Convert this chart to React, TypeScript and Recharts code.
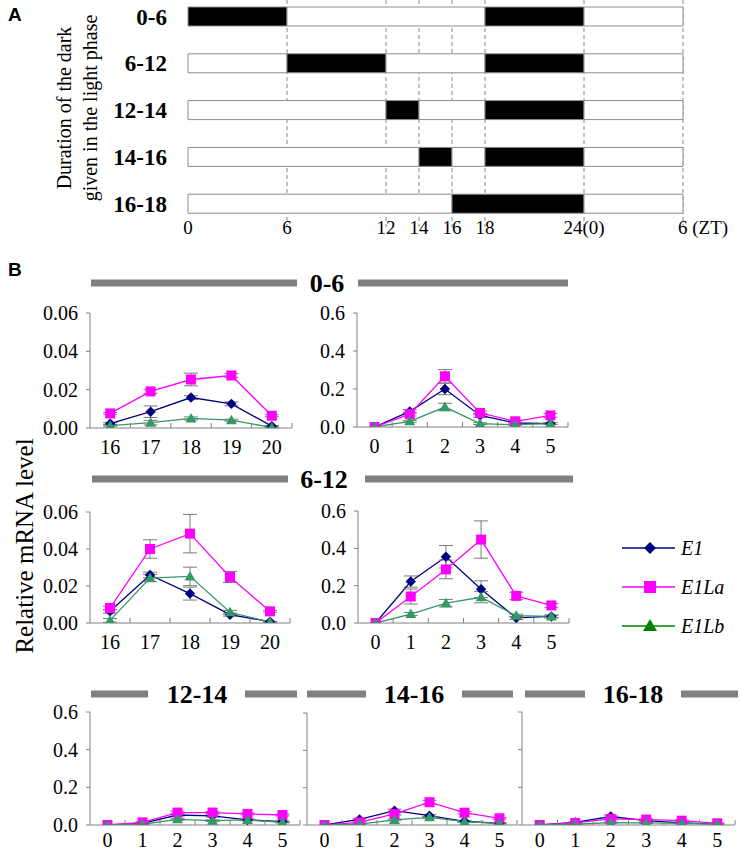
import React from 'react';
import { LineChart, Line, XAxis, YAxis, ErrorBar, BarChart, Bar, Cell, CartesianGrid } from 'recharts';

const SERIF = "'Liberation Serif', 'Times New Roman', Times, serif";
const SANS = "'Liberation Sans Narrow', 'Liberation Sans', Arial, sans-serif";
const AXIS_GRAY = '#808080';
const ERR_GRAY = '#7a7a7a';
const E1_COLOR = '#000080';
const E1LA_COLOR = '#ff00ff';
const E1LB_COLOR = '#339966';
const E1LB_LEGEND = '#008000';

// ---------- Panel A data ----------
const treatmentLabels = ['0-6', '6-12', '12-14', '14-16', '16-18'];
const darkPulseStart = [0, 6, 12, 14, 16];
const darkPulseEnd = [6, 12, 14, 16, 18];
const nightStart = 18;
const nightEnd = 24;
const cycleEnd = 30;
const ztTicks = [0, 6, 12, 14, 16, 18, 24, 30];
const ztTickLabels = ['0', '6', '12', '14', '16', '18', '24(0)', '6 (ZT)'];

// ---------- Panel B categories ----------
const ztLate = ['16', '17', '18', '19', '20'];
const ztEarly = ['0', '1', '2', '3', '4', '5'];

// 0-6, ZT16-20
const d06LateE1 = [0.0023, 0.0085, 0.0159, 0.0126, 0.001];
const d06LateE1Err = [0.0005, 0.003, 0.001, 0.001, 0.0003];
const d06LateE1La = [0.0076, 0.0191, 0.0253, 0.0274, 0.0064];
const d06LateE1LaErr = [0.0005, 0.001, 0.0033, 0.001, 0.0005];
const d06LateE1Lb = [0.0012, 0.0028, 0.005, 0.0041, 0.0003];
const d06LateE1LbErr = [0.0003, 0.0012, 0.0008, 0.0005, 0.0002];

// 0-6, ZT0-5
const d06EarlyE1 = [0, 0.082, 0.2, 0.061, 0.021, 0.018];
const d06EarlyE1Err = [0, 0.01, 0.03, 0.01, 0.005, 0.005];
const d06EarlyE1La = [0, 0.068, 0.267, 0.074, 0.03, 0.061];
const d06EarlyE1LaErr = [0, 0.01, 0.035, 0.01, 0.005, 0.01];
const d06EarlyE1Lb = [0, 0.03, 0.105, 0.018, 0.012, 0.018];
const d06EarlyE1LbErr = [0, 0.005, 0.02, 0.005, 0.003, 0.005];

// 6-12, ZT16-20
const d612LateE1 = [0.0063, 0.026, 0.0159, 0.0045, 0.0007];
const d612LateE1Err = [0.001, 0.0015, 0.0035, 0.0008, 0.0002];
const d612LateE1La = [0.0081, 0.04, 0.0483, 0.0249, 0.0063];
const d612LateE1LaErr = [0.001, 0.005, 0.0104, 0.003, 0.0005];
const d612LateE1Lb = [0.0014, 0.0243, 0.0252, 0.0058, 0.0005];
const d612LateE1LbErr = [0.001, 0.002, 0.005, 0.001, 0.0002];

// 6-12, ZT0-5
const d612EarlyE1 = [0, 0.222, 0.355, 0.181, 0.027, 0.035];
const d612EarlyE1Err = [0, 0.03, 0.06, 0.045, 0.008, 0.008];
const d612EarlyE1La = [0, 0.142, 0.287, 0.447, 0.145, 0.094];
const d612EarlyE1LaErr = [0, 0.04, 0.05, 0.1, 0.02, 0.01];
const d612EarlyE1Lb = [0, 0.048, 0.106, 0.138, 0.039, 0.035];
const d612EarlyE1LbErr = [0, 0.008, 0.02, 0.03, 0.008, 0.006];

// 12-14, ZT0-5
const d1214E1 = [0, 0.009, 0.053, 0.048, 0.027, 0.018];
const d1214E1Err = [0, 0.003, 0.006, 0.005, 0.004, 0.003];
const d1214E1La = [0, 0.014, 0.066, 0.066, 0.059, 0.053];
const d1214E1LaErr = [0, 0.003, 0.008, 0.006, 0.005, 0.005];
const d1214E1Lb = [0, 0.004, 0.03, 0.023, 0.027, 0.014];
const d1214E1LbErr = [0, 0.002, 0.005, 0.004, 0.004, 0.003];

// 14-16, ZT0-5
const d1416E1 = [0, 0.03, 0.077, 0.05, 0.02, 0.009];
const d1416E1Err = [0, 0.004, 0.008, 0.006, 0.004, 0.003];
const d1416E1La = [0, 0.014, 0.059, 0.122, 0.066, 0.036];
const d1416E1LaErr = [0, 0.003, 0.006, 0.01, 0.006, 0.004];
const d1416E1Lb = [0, 0.005, 0.027, 0.041, 0.018, 0.009];
const d1416E1LbErr = [0, 0.002, 0.004, 0.005, 0.003, 0.002];

// 16-18, ZT0-5
const d1618E1 = [0, 0.014, 0.045, 0.023, 0.011, 0.005];
const d1618E1Err = [0, 0.003, 0.007, 0.004, 0.003, 0.002];
const d1618E1La = [0, 0.011, 0.032, 0.029, 0.023, 0.009];
const d1618E1LaErr = [0, 0.003, 0.005, 0.004, 0.004, 0.002];
const d1618E1Lb = [0, 0.004, 0.013, 0.011, 0.009, 0.004];
const d1618E1LbErr = [0, 0.002, 0.003, 0.003, 0.002, 0.002];

const seriesNames = ['E1', 'E1La', 'E1Lb'];

// ---------- Panel A ----------
function buildRow(i: number) {
  const pts = Array.from(new Set([0, darkPulseStart[i], darkPulseEnd[i], nightStart, nightEnd, cycleEnd])).sort((a, b) => a - b);
  const segs: { len: number; dark: boolean }[] = [];
  for (let k = 0; k < pts.length - 1; k++) {
    const a = pts[k];
    const b = pts[k + 1];
    const mid = (a + b) / 2;
    const dark = (mid >= darkPulseStart[i] && mid < darkPulseEnd[i]) || (mid >= nightStart && mid < nightEnd);
    if (segs.length && segs[segs.length - 1].dark === dark) segs[segs.length - 1].len += b - a;
    else segs.push({ len: b - a, dark });
  }
  const row: any = { label: treatmentLabels[i] };
  for (let k = 0; k < 5; k++) {
    row['s' + k] = segs[k] ? segs[k].len : 0;
    row['d' + k] = segs[k] ? segs[k].dark : false;
  }
  return row;
}

const scheduleData = treatmentLabels.map((_, i) => buildRow(i));

const ZtTick = (props: any) => {
  const { x, y, payload } = props;
  const idx = ztTicks.indexOf(payload.value);
  const last = idx === ztTicks.length - 1;
  return (
    <text x={last ? x - 5 : x} y={y} dy="0.36em" textAnchor={last ? 'start' : 'middle'} fontSize={19} fontFamily={SERIF} fill="#000">
      {ztTickLabels[idx]}
    </text>
  );
};

function PanelA() {
  return (
    <div style={{ position: 'absolute', left: 0, top: -7 }}>
      <BarChart
        width={740}
        height={264}
        data={scheduleData}
        layout="vertical"
        margin={{ top: 0, right: 57, bottom: 0, left: 0 }}
        barCategoryGap={0}
      >
        <CartesianGrid horizontal={false} verticalValues={ztTicks.slice(1)} stroke="#8a8a8a" strokeDasharray="4 3" />
        <XAxis
          type="number"
          domain={[0, cycleEnd]}
          ticks={ztTicks}
          interval={0}
          axisLine={false}
          tickLine={false}
          tickSize={0}
          tickMargin={0}
          height={30}
          tick={ZtTick}
        />
        <YAxis
          type="category"
          dataKey="label"
          width={188}
          axisLine={false}
          tickLine={false}
          tickSize={0}
          tickMargin={21}
          tick={{ fontSize: 23, fontWeight: 'bold', fontFamily: SERIF, fill: '#000' }}
        />
        {[0, 1, 2, 3, 4].map((k) => (
          <Bar key={k} dataKey={'s' + k} stackId="a" barSize={19} stroke="#8c8c8c" strokeWidth={1} isAnimationActive={false}>
            {scheduleData.map((r, i) => (
              <Cell key={i} fill={r['d' + k] ? '#000' : '#fff'} />
            ))}
          </Bar>
        ))}
      </BarChart>
    </div>
  );
}

// ---------- Panel B ----------
const diamondDot = (p: any) => {
  const { cx, cy, index } = p;
  if (cx == null || cy == null) return <g key={'d' + index} />;
  const r = 5.2;
  return <path key={'d' + index} d={`M${cx},${cy - r}L${cx + r},${cy}L${cx},${cy + r}L${cx - r},${cy}Z`} fill={E1_COLOR} />;
};
const squareDot = (p: any) => {
  const { cx, cy, index } = p;
  if (cx == null || cy == null) return <g key={'s' + index} />;
  const h = 5;
  return <rect key={'s' + index} x={cx - h} y={cy - h} width={2 * h} height={2 * h} fill={E1LA_COLOR} />;
};
const triangleDot = (p: any) => {
  const { cx, cy, index } = p;
  if (cx == null || cy == null) return <g key={'t' + index} />;
  return <path key={'t' + index} d={`M${cx},${cy - 5.5}L${cx + 5.5},${cy + 4}L${cx - 5.5},${cy + 4}Z`} fill={E1LB_COLOR} />;
};

type ChartProps = {
  cats: string[];
  e1: number[];
  e1Err: number[];
  la: number[];
  laErr: number[];
  lb: number[];
  lbErr: number[];
  yMax: number;
  decimals: number;
  axisX: number;
  plotTop: number;
  plotBottom: number;
  plotRight: number;
  showYLabels: boolean;
  labelOffset: number;
};

function ExprChart(props: ChartProps) {
  const { cats, e1, e1Err, la, laErr, lb, lbErr, yMax, decimals, axisX, plotTop, plotBottom, plotRight, showYLabels, labelOffset } = props;
  const plotW = plotRight - axisX;
  const plotH = plotBottom - plotTop;
  const YW = 60;
  const MT = 12;
  const MR = 12;
  const XH = 36;
  const bw = plotW / cats.length;
  const data = cats.map((c, i) => ({
    i,
    e1: e1[i],
    e1Err: e1Err[i],
    la: la[i],
    laErr: laErr[i],
    lb: lb[i],
    lbErr: lbErr[i],
  }));
  const CatTick = (tp: any) => {
    const { x, y, payload } = tp;
    return (
      <g>
        <line x1={x + bw / 2} y1={y} x2={x + bw / 2} y2={y - 5} stroke={AXIS_GRAY} />
        <text x={x} y={y + labelOffset} dy="0.36em" textAnchor="middle" fontSize={20} fontFamily={SERIF} fill="#000">
          {cats[payload.value]}
        </text>
      </g>
    );
  };
  return (
    <div style={{ position: 'absolute', left: axisX - YW, top: plotTop - MT }}>
      <LineChart width={YW + plotW + MR} height={MT + plotH + XH} data={data} margin={{ top: MT, right: MR, bottom: 0, left: 0 }}>
        <XAxis
          dataKey="i"
          type="number"
          domain={[-0.5, cats.length - 0.5]}
          ticks={cats.map((_, i) => i)}
          interval={0}
          tickLine={false}
          tickSize={0}
          tickMargin={0}
          height={XH}
          axisLine={{ stroke: AXIS_GRAY }}
          tick={CatTick}
          allowDataOverflow
        />
        <YAxis
          type="number"
          domain={[0, yMax]}
          ticks={[0, yMax / 3, (2 * yMax) / 3, yMax]}
          tickFormatter={(v: number) => (showYLabels ? v.toFixed(decimals) : '')}
          width={YW}
          tickSize={4}
          tickMargin={8}
          axisLine={{ stroke: AXIS_GRAY }}
          tickLine={{ stroke: AXIS_GRAY }}
          tick={{ fontSize: 20, fill: '#000', fontFamily: SERIF }}
          allowDataOverflow
        />
        <Line dataKey="e1" name={seriesNames[0]} stroke={E1_COLOR} strokeWidth={1.3} dot={diamondDot} isAnimationActive={false}>
          <ErrorBar dataKey="e1Err" stroke={ERR_GRAY} width={7} strokeWidth={1} />
        </Line>
        <Line dataKey="la" name={seriesNames[1]} stroke={E1LA_COLOR} strokeWidth={1.3} dot={squareDot} isAnimationActive={false}>
          <ErrorBar dataKey="laErr" stroke={ERR_GRAY} width={7} strokeWidth={1} />
        </Line>
        <Line dataKey="lb" name={seriesNames[2]} stroke={E1LB_COLOR} strokeWidth={1.3} dot={triangleDot} isAnimationActive={false}>
          <ErrorBar dataKey="lbErr" stroke={ERR_GRAY} width={7} strokeWidth={1} />
        </Line>
      </LineChart>
    </div>
  );
}

// ---------- Decorations ----------
function TitleBar({ x1, x2, y }: { x1: number; x2: number; y: number }) {
  return <rect x={x1} y={y - 3.5} width={x2 - x1} height={7} fill="#808080" />;
}

function Title({ x, y, text }: { x: number; y: number; text: string }) {
  return (
    <text x={x} y={y} dy="0.35em" textAnchor="middle" fontSize={26} fontWeight="bold" fontFamily={SERIF} fill="#000">
      {text}
    </text>
  );
}

function Overlay() {
  const legendRows = [
    { name: seriesNames[0], color: E1_COLOR, y: 548, shape: 'diamond' },
    { name: seriesNames[1], color: E1LA_COLOR, y: 587, shape: 'square' },
    { name: seriesNames[2], color: E1LB_LEGEND, y: 626, shape: 'triangle' },
  ];
  return (
    <svg width={740} height={852} style={{ position: 'absolute', left: 0, top: 0, pointerEvents: 'none' }}>
      <text x={8} y={21} fontSize={19} fontWeight="bold" fontFamily={SANS} fill="#000">A</text>
      <text x={8} y={276} fontSize={19} fontWeight="bold" fontFamily={SANS} fill="#000">B</text>
      <text transform="translate(64,108) rotate(-90)" textAnchor="middle" dy="0.35em" fontSize={20} fontFamily={SERIF} fill="#000">
        Duration of the dark
      </text>
      <text transform="translate(90,108) rotate(-90)" textAnchor="middle" dy="0.35em" fontSize={20} fontFamily={SERIF} fill="#000">
        given in the light phase
      </text>
      <text transform="translate(24,546) rotate(-90)" textAnchor="middle" dy="0.35em" fontSize={25} fontFamily={SERIF} fill="#000">
        Relative mRNA level
      </text>

      <TitleBar x1={91} x2={297} y={283} />
      <Title x={327} y={283} text={treatmentLabels[0]} />
      <TitleBar x1={358} x2={568} y={283} />

      <TitleBar x1={92} x2={288} y={479} />
      <Title x={324} y={479} text={treatmentLabels[1]} />
      <TitleBar x1={365} x2={573} y={479} />

      <TitleBar x1={91} x2={148} y={694} />
      <Title x={197} y={694} text={treatmentLabels[2]} />
      <TitleBar x1={245} x2={297} y={694} />

      <TitleBar x1={307} x2={366} y={694} />
      <Title x={414} y={694} text={treatmentLabels[3]} />
      <TitleBar x1={462} x2={513} y={694} />

      <TitleBar x1={525} x2={585} y={694} />
      <Title x={633} y={694} text={treatmentLabels[4]} />
      <TitleBar x1={681} x2={738} y={694} />

      {legendRows.map((r) => (
        <g key={r.name}>
          <line x1={622} x2={675} y1={r.y} y2={r.y} stroke={r.color} strokeWidth={1.3} />
          {r.shape === 'diamond' && <path d={`M650,${r.y - 6}L656,${r.y}L650,${r.y + 6}L644,${r.y}Z`} fill={r.color} />}
          {r.shape === 'square' && <rect x={644} y={r.y - 6} width={12} height={12} fill={r.color} />}
          {r.shape === 'triangle' && <path d={`M650,${r.y - 7}L657,${r.y + 5}L643,${r.y + 5}Z`} fill={r.color} />}
          <text x={681} y={r.y} dy="0.35em" fontSize={20} fontStyle="italic" fontFamily={SERIF} fill="#000">
            {r.name}
          </text>
        </g>
      ))}
    </svg>
  );
}

export default function App() {
  return (
    <div style={{ position: 'absolute', left: 0, top: 0, width: 740, height: 852, background: '#fff', overflow: 'hidden' }}>
      <PanelA />
      <ExprChart cats={ztLate} e1={d06LateE1} e1Err={d06LateE1Err} la={d06LateE1La} laErr={d06LateE1LaErr} lb={d06LateE1Lb} lbErr={d06LateE1LbErr}
        yMax={0.06} decimals={2} axisX={90} plotTop={313} plotBottom={428} plotRight={292} showYLabels labelOffset={19} />
      <ExprChart cats={ztEarly} e1={d06EarlyE1} e1Err={d06EarlyE1Err} la={d06EarlyE1La} laErr={d06EarlyE1LaErr} lb={d06EarlyE1Lb} lbErr={d06EarlyE1LbErr}
        yMax={0.6} decimals={1} axisX={357} plotTop={313} plotBottom={427} plotRight={568} showYLabels labelOffset={19} />
      <ExprChart cats={ztLate} e1={d612LateE1} e1Err={d612LateE1Err} la={d612LateE1La} laErr={d612LateE1LaErr} lb={d612LateE1Lb} lbErr={d612LateE1LbErr}
        yMax={0.06} decimals={2} axisX={90} plotTop={512} plotBottom={623} plotRight={290} showYLabels labelOffset={19} />
      <ExprChart cats={ztEarly} e1={d612EarlyE1} e1Err={d612EarlyE1Err} la={d612EarlyE1La} laErr={d612EarlyE1LaErr} lb={d612EarlyE1Lb} lbErr={d612EarlyE1LbErr}
        yMax={0.6} decimals={1} axisX={358} plotTop={511} plotBottom={623} plotRight={569} showYLabels labelOffset={19} />
      <ExprChart cats={ztEarly} e1={d1214E1} e1Err={d1214E1Err} la={d1214E1La} laErr={d1214E1LaErr} lb={d1214E1Lb} lbErr={d1214E1LbErr}
        yMax={0.6} decimals={1} axisX={90} plotTop={712} plotBottom={825} plotRight={300} showYLabels labelOffset={15} />
      <ExprChart cats={ztEarly} e1={d1416E1} e1Err={d1416E1Err} la={d1416E1La} laErr={d1416E1LaErr} lb={d1416E1Lb} lbErr={d1416E1LbErr}
        yMax={0.6} decimals={1} axisX={307} plotTop={713} plotBottom={825} plotRight={517} showYLabels={false} labelOffset={15} />
      <ExprChart cats={ztEarly} e1={d1618E1} e1Err={d1618E1Err} la={d1618E1La} laErr={d1618E1LaErr} lb={d1618E1Lb} lbErr={d1618E1LbErr}
        yMax={0.6} decimals={1} axisX={522} plotTop={712} plotBottom={825} plotRight={735} showYLabels={false} labelOffset={15} />
      <Overlay />
    </div>
  );
}
